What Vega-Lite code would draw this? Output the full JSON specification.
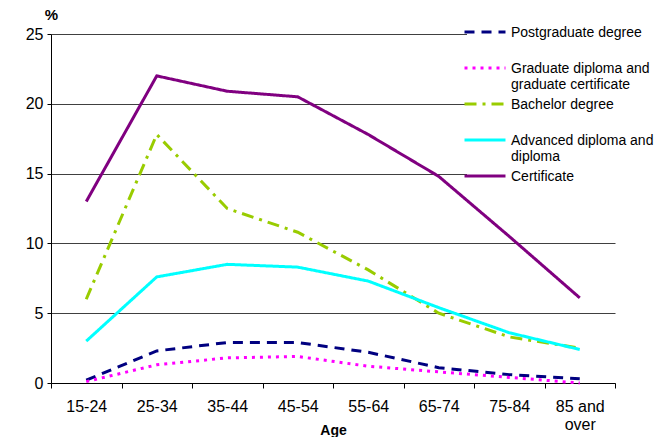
{
  "$schema": "https://vega.github.io/schema/vega-lite/v6.json",
  "width": 564,
  "height": 349,
  "autosize": "none",
  "padding": {"left": 51, "top": 34, "right": 48, "bottom": 54},
  "background": "white",
  "config": {
    "view": {"stroke": null},
    "font": "Liberation Sans",
    "axis": {"labelFont": "Liberation Sans", "titleFont": "Liberation Sans", "labelColor": "black", "titleColor": "black", "domainColor": "black", "tickColor": "black"}
  },
  "data": {
    "values": [
      {"age": "15-24", "type": "Postgraduate degree", "value": 0.2},
      {"age": "25-34", "type": "Postgraduate degree", "value": 2.3},
      {"age": "35-44", "type": "Postgraduate degree", "value": 2.9},
      {"age": "45-54", "type": "Postgraduate degree", "value": 2.9},
      {"age": "55-64", "type": "Postgraduate degree", "value": 2.2},
      {"age": "65-74", "type": "Postgraduate degree", "value": 1.1},
      {"age": "75-84", "type": "Postgraduate degree", "value": 0.6},
      {"age": "85 and over", "type": "Postgraduate degree", "value": 0.3},
      {"age": "15-24", "type": "Graduate diploma and graduate certificate", "value": 0.1},
      {"age": "25-34", "type": "Graduate diploma and graduate certificate", "value": 1.3},
      {"age": "35-44", "type": "Graduate diploma and graduate certificate", "value": 1.8},
      {"age": "45-54", "type": "Graduate diploma and graduate certificate", "value": 1.9},
      {"age": "55-64", "type": "Graduate diploma and graduate certificate", "value": 1.2},
      {"age": "65-74", "type": "Graduate diploma and graduate certificate", "value": 0.8},
      {"age": "75-84", "type": "Graduate diploma and graduate certificate", "value": 0.4},
      {"age": "85 and over", "type": "Graduate diploma and graduate certificate", "value": 0.0},
      {"age": "15-24", "type": "Bachelor degree", "value": 6.0},
      {"age": "25-34", "type": "Bachelor degree", "value": 17.8},
      {"age": "35-44", "type": "Bachelor degree", "value": 12.5},
      {"age": "45-54", "type": "Bachelor degree", "value": 10.8},
      {"age": "55-64", "type": "Bachelor degree", "value": 8.1},
      {"age": "65-74", "type": "Bachelor degree", "value": 5.0},
      {"age": "75-84", "type": "Bachelor degree", "value": 3.3},
      {"age": "85 and over", "type": "Bachelor degree", "value": 2.5},
      {"age": "15-24", "type": "Advanced diploma and diploma", "value": 3.0},
      {"age": "25-34", "type": "Advanced diploma and diploma", "value": 7.6},
      {"age": "35-44", "type": "Advanced diploma and diploma", "value": 8.5},
      {"age": "45-54", "type": "Advanced diploma and diploma", "value": 8.3},
      {"age": "55-64", "type": "Advanced diploma and diploma", "value": 7.3},
      {"age": "65-74", "type": "Advanced diploma and diploma", "value": 5.4},
      {"age": "75-84", "type": "Advanced diploma and diploma", "value": 3.6},
      {"age": "85 and over", "type": "Advanced diploma and diploma", "value": 2.4},
      {"age": "15-24", "type": "Certificate", "value": 13.0},
      {"age": "25-34", "type": "Certificate", "value": 22.0},
      {"age": "35-44", "type": "Certificate", "value": 20.9},
      {"age": "45-54", "type": "Certificate", "value": 20.5},
      {"age": "55-64", "type": "Certificate", "value": 17.8},
      {"age": "65-74", "type": "Certificate", "value": 14.8},
      {"age": "75-84", "type": "Certificate", "value": 10.5},
      {"age": "85 and over", "type": "Certificate", "value": 6.1}
    ]
  },
  "mark": {"type": "line", "strokeCap": "butt"},
  "encoding": {
    "x": {
      "field": "age",
      "type": "ordinal",
      "bandPosition": 0.5,
      "scale": {"type": "band", "paddingInner": 0, "paddingOuter": 0},
      "axis": {
        "title": "Age",
        "titleFontSize": 14,
        "titleFontWeight": "bold",
        "titleY": 51,
        "titleBaseline": "alphabetic",
        "labelAngle": 0,
        "labelFontSize": 16,
        "labelPadding": 10,
        "tickBand": "extent",
        "tickSize": 5,
        "labelExpr": "datum.value == '85 and over' ? ['85  and', 'over'] : datum.label"
      }
    },
    "y": {
      "field": "value",
      "type": "quantitative",
      "scale": {"domain": [0, 25], "nice": false},
      "axis": {
        "title": "%",
        "titleAngle": 0,
        "titleFontSize": 15,
        "titleFontWeight": "bold",
        "titleX": 0,
        "titleY": -12,
        "titleAlign": "center",
        "values": [0, 5, 10, 15, 20, 25],
        "labelFontSize": 16,
        "labelPadding": 4,
        "tickSize": 4,
        "gridColor": "#404040",
        "gridOpacity": 1,
        "gridWidth": 1
      }
    },
    "color": {
      "field": "type",
      "type": "nominal",
      "scale": {
        "domain": ["Postgraduate degree", "Graduate diploma and graduate certificate", "Bachelor degree", "Advanced diploma and diploma", "Certificate"],
        "range": ["#000080", "#FF00FF", "#99CC00", "#00FFFF", "#800080"]
      },
      "legend": {
        "title": null,
        "orient": "none",
        "legendX": 416,
        "legendY": -20,
        "fillColor": "white",
        "padding": 6,
        "symbolType": "M-2,0H2",
        "symbolSize": 420,
        "labelFontSize": 14,
        "labelColor": "black",
        "labelLimit": 300,
        "labelOffset": 14,
        "rowPadding": -8,
        "gridAlign": "all",
        "labelBaseline": "alphabetic",
        "labelExpr": "datum.label == 'Graduate diploma and graduate certificate' ? ['Graduate diploma and', 'graduate certificate'] : datum.label == 'Advanced diploma and diploma' ? ['Advanced diploma and', 'diploma'] : datum.label",
        "encode": {"labels": {"update": {"dy": {"value": 5}, "lineHeight": {"value": 16}}}}
      }
    },
    "strokeDash": {
      "field": "type",
      "type": "nominal",
      "scale": {
        "domain": ["Postgraduate degree", "Graduate diploma and graduate certificate", "Bachelor degree", "Advanced diploma and diploma", "Certificate"],
        "range": [[10, 7], [3, 5], [12, 6, 3, 6], [1, 0], [1, 0]]
      }
    },
    "strokeWidth": {
      "field": "type",
      "type": "nominal",
      "scale": {
        "domain": ["Postgraduate degree", "Graduate diploma and graduate certificate", "Bachelor degree", "Advanced diploma and diploma", "Certificate"],
        "range": [3, 3, 3, 2, 2]
      }
    }
  }
}
